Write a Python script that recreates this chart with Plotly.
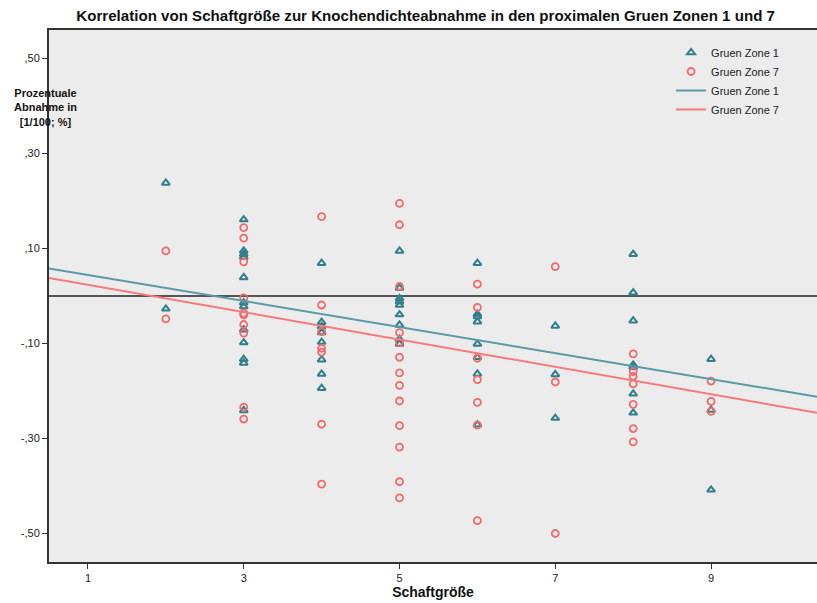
import numpy as np
import plotly.graph_objects as go

# Zone 1 (triangles)
x_z1 = [2, 2,
        3, 3, 3, 3, 3, 3, 3, 3, 3, 3, 3, 3,
        4, 4, 4, 4, 4, 4, 4, 4,
        5, 5, 5, 5, 5, 5, 5, 5, 5,
        6, 6, 6, 6, 6, 6, 6, 6,
        7, 7, 7,
        8, 8, 8, 8, 8, 8, 8,
        9, 9, 9]
y_z1 = [0.238, -0.027,
        0.161, 0.095, 0.088, 0.082, 0.039, -0.014, -0.022, -0.071, -0.098, -0.133, -0.141, -0.241,
        0.069, -0.055, -0.064, -0.077, -0.097, -0.134, -0.164, -0.194,
        0.095, 0.017, -0.005, -0.012, -0.019, -0.039, -0.061, -0.091, -0.101,
        0.069, -0.038, -0.043, -0.054, -0.101, -0.129, -0.164, -0.271,
        -0.063, -0.165, -0.257,
        0.088, 0.007, -0.052, -0.145, -0.150, -0.206, -0.246,
        -0.133, -0.240, -0.408]

# Zone 7 (circles)
x_z7 = [2, 2,
        3, 3, 3, 3, 3, 3, 3, 3, 3, 3,
        4, 4, 4, 4, 4, 4, 4,
        5, 5, 5, 5, 5, 5, 5, 5, 5, 5, 5, 5, 5,
        6, 6, 6, 6, 6, 6, 6,
        7, 7, 7,
        8, 8, 8, 8, 8, 8, 8,
        9, 9, 9]
y_z7 = [0.095, -0.048,
        0.144, 0.122, 0.072, -0.004, -0.036, -0.040, -0.060, -0.078, -0.234, -0.259,
        0.167, -0.019, -0.075, -0.110, -0.118, -0.270, -0.396,
        0.195, 0.150, 0.020, -0.077, -0.098, -0.129, -0.162, -0.188, -0.221, -0.273, -0.318, -0.391, -0.425,
        0.025, -0.024, -0.131, -0.176, -0.224, -0.272, -0.473,
        0.062, -0.181, -0.500,
        -0.122, -0.159, -0.169, -0.185, -0.228, -0.279, -0.307,
        -0.179, -0.222, -0.243]

# Fit lines as drawn in the picture: [intercept, slope]
fit_z1 = [0.0717, -0.0274]
fit_z7 = [0.0524, -0.0288]

x_ticks = [1, 3, 5, 7, 9]
y_ticks = [0.5, 0.3, 0.1, -0.1, -0.3, -0.5]
y_ticklabels = [",50", ",30", ",10", "-,10", "-,30", "-,50"]

X_RANGE = [0.5, 10.36]
Y_RANGE = [-0.56, 0.56]

TEAL = "#2f7f8c"
TEAL_LINE = "#5a9aa6"
RED = "#f26a6a"
RED_LINE = "#f77b7b"
FONT = "Liberation Sans, Arial, sans-serif"

xl = np.array(X_RANGE)

fig = go.Figure()
fig.add_trace(go.Scatter(x=x_z1, y=y_z1, mode="markers", name="Gruen Zone 1",
                         marker=dict(symbol="triangle-up-open", size=7, color=TEAL,
                                     line=dict(width=2, color=TEAL))))
fig.add_trace(go.Scatter(x=x_z7, y=y_z7, mode="markers", name="Gruen Zone 7",
                         marker=dict(symbol="circle-open", size=7, color=RED,
                                     line=dict(width=1.8, color=RED))))
fig.add_trace(go.Scatter(x=xl, y=fit_z1[0] + fit_z1[1] * xl, mode="lines", name="Gruen Zone 1",
                         line=dict(color=TEAL_LINE, width=2)))
fig.add_trace(go.Scatter(x=xl, y=fit_z7[0] + fit_z7[1] * xl, mode="lines", name="Gruen Zone 7",
                         line=dict(color=RED_LINE, width=2)))

fig.update_layout(
    width=817, height=603,
    margin=dict(l=49, r=0, t=30, b=41, autoexpand=False),
    paper_bgcolor="white",
    plot_bgcolor="#ececec",
    font=dict(family=FONT, size=11, color="#222"),
    title=dict(text="<b>Korrelation von Schaftgröße zur Knochendichteabnahme in den proximalen Gruen Zonen 1 und 7</b>",
               x=0.521, xanchor="center", y=0.983, yanchor="top",
               font=dict(family=FONT, size=15.1, color="#111")),
    showlegend=True,
    legend=dict(x=0.81, y=0.985, xanchor="left", yanchor="top",
                bgcolor="rgba(0,0,0,0)", font=dict(family=FONT, size=11, color="#222"),
                tracegroupgap=0, itemwidth=30),
    xaxis=dict(range=X_RANGE, tickvals=x_ticks, ticktext=[str(v) for v in x_ticks],
               automargin=False,
               showgrid=False, zeroline=False, showline=True, linecolor="#333", linewidth=2,
               mirror=True, ticks="outside", ticklen=5, tickcolor="#333",
               tickfont=dict(family=FONT, size=11, color="#222"),
               title=dict(text="<b>Schaftgröße</b>", standoff=2,
                          font=dict(family=FONT, size=14, color="#111"))),
    yaxis=dict(range=Y_RANGE, tickvals=y_ticks, ticktext=y_ticklabels,
               automargin=False,
               showgrid=False, zeroline=True, zerolinecolor="#555", zerolinewidth=2,
               showline=True, linecolor="#333", linewidth=2, mirror=True,
               ticks="outside", ticklen=5, tickcolor="#333",
               tickfont=dict(family=FONT, size=11, color="#222")),
)

fig.add_annotation(text="<b>Prozentuale<br>Abnahme in<br>[1/100; %]</b>",
                   xref="paper", yref="paper", x=-0.005, y=0.897, xanchor="center", yanchor="top",
                   showarrow=False, align="center",
                   font=dict(family=FONT, size=11, color="#111"))

fig.write_html("out.html", config={"displayModeBar": False},
               post_script="document.body.style.margin='0';")
